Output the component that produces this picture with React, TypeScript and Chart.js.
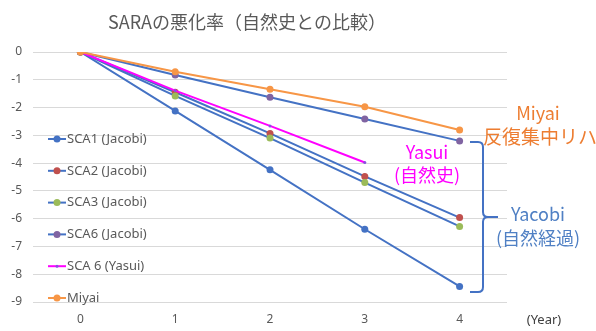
import React, { useEffect, useRef } from "react";
import { Chart, registerables } from "chart.js";

Chart.register(...registerables);

const categories = ["0", "1", "2", "3", "4"];
const sca1 = [0, -2.12, -4.24, -6.38, -8.44];
const sca2 = [0, -1.45, -2.93, -4.48, -5.96];
const sca3 = [0, -1.58, -3.1, -4.7, -6.28];
const sca6 = [0, -0.83, -1.63, -2.41, -3.2];
const yasui = [0, -1.39, -2.66, -3.98, null];
const miyai = [0, -0.71, -1.34, -1.97, -2.81];

const seriesNames = ["SCA1 (Jacobi)", "SCA2 (Jacobi)", "SCA3 (Jacobi)", "SCA6 (Jacobi)", "SCA 6 (Yasui)", "Miyai"];
const titleText = "SARAの悪化率（自然史との比較）";

const FONT = "'Noto Sans', 'Noto Sans CJK JP', sans-serif";
const JP = "'Noto Sans CJK JP', 'Noto Sans', sans-serif";

const overlayPlugin = {
  id: "overlay",
  afterDraw(chart: any) {
    const ctx = chart.ctx;
    ctx.save();
    // title
    ctx.fillStyle = "#595959";
    ctx.font = `18px ${JP}`;
    ctx.textAlign = "center";
    ctx.textBaseline = "middle";
    ctx.fillText(titleText, 247, 22);

    // legend
    chart.data.datasets.forEach((ds: any, i: number) => {
      const y = 139 + i * 31.8;
      ctx.strokeStyle = ds.borderColor;
      ctx.lineWidth = 2;
      ctx.beginPath();
      ctx.moveTo(48, y);
      ctx.lineTo(66, y);
      ctx.stroke();
      ctx.fillStyle = ds.pointBackgroundColor;
      ctx.beginPath();
      ctx.arc(57, y, ds.pointRadius, 0, Math.PI * 2);
      ctx.fill();
      ctx.fillStyle = "#595959";
      ctx.font = `13px ${FONT}`;
      ctx.textAlign = "left";
      ctx.textBaseline = "middle";
      ctx.fillText(ds.label, 67, y);
    });

    // (Year)
    ctx.fillStyle = "#404040";
    ctx.font = `13px ${FONT}`;
    ctx.textAlign = "center";
    ctx.fillText("(Year)", 544, 320);

    // annotations
    ctx.font = `18px ${JP}`;
    ctx.fillStyle = "#ED7D31";
    ctx.fillText("Miyai", 538, 113);
    ctx.textAlign = "left";
    ctx.font = `19px ${JP}`;
    ctx.fillText("反復集中リハ", 483, 137);

    ctx.textAlign = "center";
    ctx.font = `18px ${JP}`;
    ctx.fillStyle = "#FF00FF";
    ctx.fillText("Yasui", 427, 152);
    ctx.fillText("(自然史)", 427, 175);

    ctx.fillStyle = "#5080C4";
    ctx.fillText("Yacobi", 538, 214);
    ctx.fillText("(自然経過)", 538, 238);

    // bracket
    ctx.strokeStyle = "#4472C4";
    ctx.lineWidth = 2;
    ctx.beginPath();
    ctx.moveTo(470, 142);
    ctx.lineTo(478, 142);
    ctx.quadraticCurveTo(483, 142, 483, 147);
    ctx.lineTo(483, 212);
    ctx.quadraticCurveTo(483, 217, 488, 217);
    ctx.lineTo(498, 217);
    ctx.moveTo(488, 217);
    ctx.quadraticCurveTo(483, 217, 483, 222);
    ctx.lineTo(483, 287);
    ctx.quadraticCurveTo(483, 292, 478, 292);
    ctx.lineTo(470, 292);
    ctx.stroke();
    ctx.restore();
  },
};

export default function App() {
  const ref = useRef<HTMLCanvasElement | null>(null);
  useEffect(() => {
    document.body.style.margin = "0";
    const blue = "#4472C4";
    const mk = (label: string, data: any[], line: string, pt: string, r: number, order: number) => ({
      label,
      data,
      borderColor: line,
      backgroundColor: pt,
      pointBackgroundColor: pt,
      pointBorderColor: pt,
      pointRadius: r,
      pointBorderWidth: 0,
      borderWidth: 2,
      tension: 0,
      spanGaps: false,
      order,
    });
    const chart = new Chart(ref.current as HTMLCanvasElement, {
      type: "line",
      data: {
        labels: categories,
        datasets: [
          mk(seriesNames[0], sca1, blue, "#4472C4", 3.5, 5),
          mk(seriesNames[1], sca2, blue, "#C0504D", 3.5, 4),
          mk(seriesNames[2], sca3, blue, "#9BBB59", 3.5, 3),
          mk(seriesNames[3], sca6, blue, "#8064A2", 3.5, 2),
          mk(seriesNames[4], yasui, "#FF00FF", "#8A4FE0", 1.5, 1),
          mk(seriesNames[5], miyai, "#F79646", "#F79646", 3.5, 0),
        ],
      },
      options: {
        responsive: false,
        animation: false,
        layout: { padding: { top: 52, right: 89, left: 0, bottom: 0 } },
        plugins: { legend: { display: false }, title: { display: false }, tooltip: { enabled: false } },
        scales: {
          x: {
            offset: true,
            grid: { display: false, drawTicks: false },
            border: { display: false },
            ticks: { color: "#595959", font: { size: 12, family: FONT }, padding: 10 },
            afterFit: (s: any) => { s.height = 29; },
          },
          y: {
            min: -9,
            max: 0,
            ticks: { stepSize: 1, color: "#595959", font: { size: 12, family: FONT }, padding: 11 },
            grid: { color: "#D9D9D9", lineWidth: 1, drawTicks: false },
            border: { display: false },
            afterFit: (s: any) => { s.width = 33; },
          },
        },
      },
      plugins: [overlayPlugin],
    });
    return () => chart.destroy();
  }, []);
  return <canvas ref={ref} width={596} height={331} style={{ display: "block" }} />;
}
